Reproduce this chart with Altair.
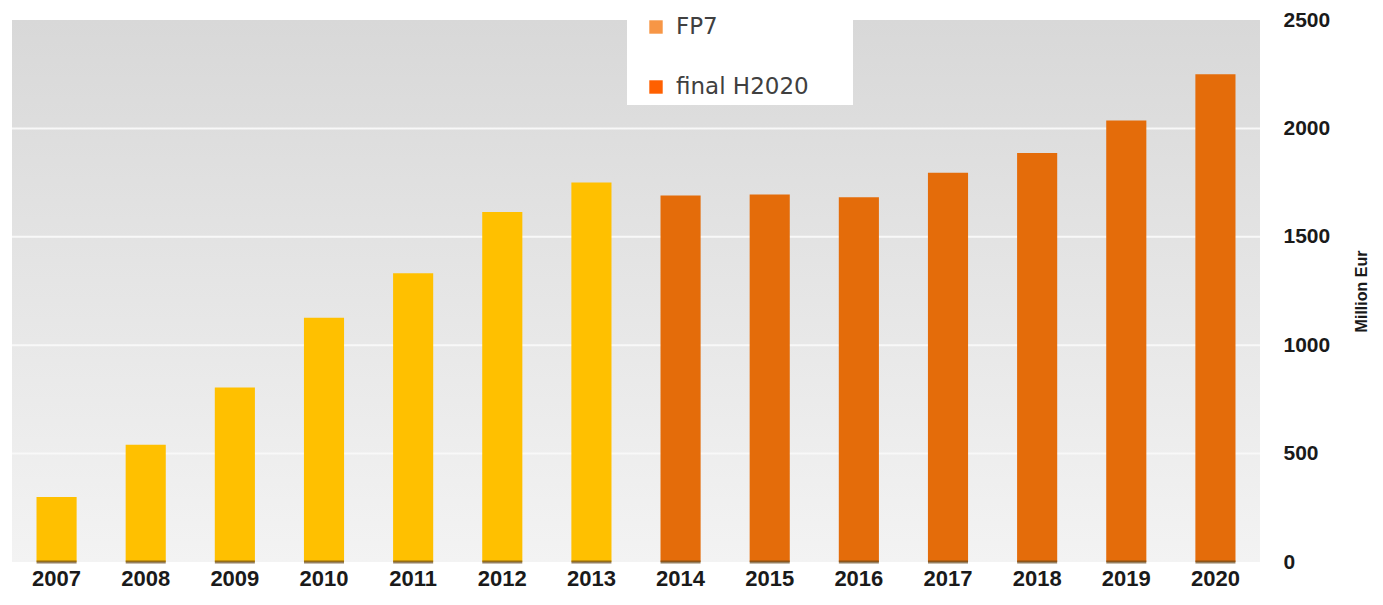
import altair as alt
import pandas as pd

years = ["2007", "2008", "2009", "2010", "2011", "2012", "2013",
         "2014", "2015", "2016", "2017", "2018", "2019", "2020"]
values = [300, 541, 805, 1127, 1332, 1614, 1750,
          1691, 1695, 1682, 1795, 1886, 2036, 2250]
programme = ["FP7"] * 7 + ["final H2020"] * 7
programmes = ["FP7", "final H2020"]
bar_colors = ["#FFC000", "#E46C0A"]
legend_colors = ["#F79646", "#FF6000"]
y_ticks = [0, 500, 1000, 1500, 2000, 2500]
grid_values = [500, 1000, 1500, 2000]

W, H = 1248, 542

df = pd.DataFrame({"year": years, "value": values, "programme": programme})
one = pd.DataFrame({"k": [0]})
grid_df = pd.DataFrame({"g": grid_values})

xenc = alt.X("year:N", sort=years,
             scale=alt.Scale(paddingInner=0.55, paddingOuter=0.275),
             axis=alt.Axis(title=None, labelAngle=0, domain=False, ticks=False,
                           labelFont="Liberation Sans", labelFontWeight="bold",
                           labelFontSize=22, labelColor="#1a1a1a", labelPadding=6))
yscale = alt.Scale(domain=[0, 2500], nice=False)
yaxis = alt.Axis(orient="right", values=y_ticks, format="d", grid=False,
                 domain=False, ticks=False, labelFont="Liberation Sans",
                 labelFontWeight="bold", labelFontSize=21,
                 labelColor="#1a1a1a", labelPadding=23, labelBaseline="middle",
                 labelFlush=False,
                 title="Million Eur", titleAngle=270,
                 titleFont="Liberation Sans", titleFontWeight="bold",
                 titleFontSize=16, titleColor="#1a1a1a",
                 titleX=101, titleY=H / 2, titleAlign="center",
                 titleBaseline="middle")

background = alt.Chart(one).mark_rect(
    fill=alt.Gradient(gradient="linear",
                      stops=[alt.GradientStop(color="#d8d8d8", offset=0),
                             alt.GradientStop(color="#f3f3f3", offset=1)],
                      x1=0, x2=0, y1=0, y2=1)
).encode(x=alt.value(0), x2=alt.value(W), y=alt.value(0), y2=alt.value(H))

grid = alt.Chart(grid_df).mark_rule(color="#f8f8f8", strokeWidth=2).encode(
    y=alt.Y("g:Q", scale=yscale, axis=yaxis),
    x=alt.value(0), x2=alt.value(W))

bars = alt.Chart(df).mark_bar().encode(
    x=xenc,
    y=alt.Y("value:Q", scale=yscale, axis=yaxis),
    color=alt.Color("programme:N",
                    scale=alt.Scale(domain=programmes, range=bar_colors),
                    legend=None))

bases = alt.Chart(df).mark_tick(color="#6a4a1e", thickness=3, size=40).encode(
    x=alt.X("year:N", sort=years), y=alt.datum(0, scale=yscale))

legend_box = alt.Chart(one).mark_rect(fill="white").encode(
    x=alt.value(615), x2=alt.value(841), y=alt.value(-12), y2=alt.value(85))

legend_layers = [legend_box]
for i, (lab, col) in enumerate(zip(programmes, legend_colors)):
    yy = 7 + i * 60
    legend_layers.append(
        alt.Chart(one).mark_square(size=180, color=col, opacity=1).encode(
            x=alt.value(644), y=alt.value(yy)))
    legend_layers.append(
        alt.Chart(one).mark_text(align="left", baseline="middle",
                                 font="DejaVu Sans", fontSize=23,
                                 color="#404040").encode(
            x=alt.value(664), y=alt.value(yy), text=alt.value(lab)))

chart = alt.layer(background, grid, bars, bases, *legend_layers).properties(
    width=W, height=H,
    autosize=alt.AutoSizeParams(type="none"),
    padding={"left": 4, "top": 12, "right": 115, "bottom": 29},
    background="white",
).configure_view(stroke=None)

chart.save("out.html", embed_options={"renderer": "svg", "actions": False})
